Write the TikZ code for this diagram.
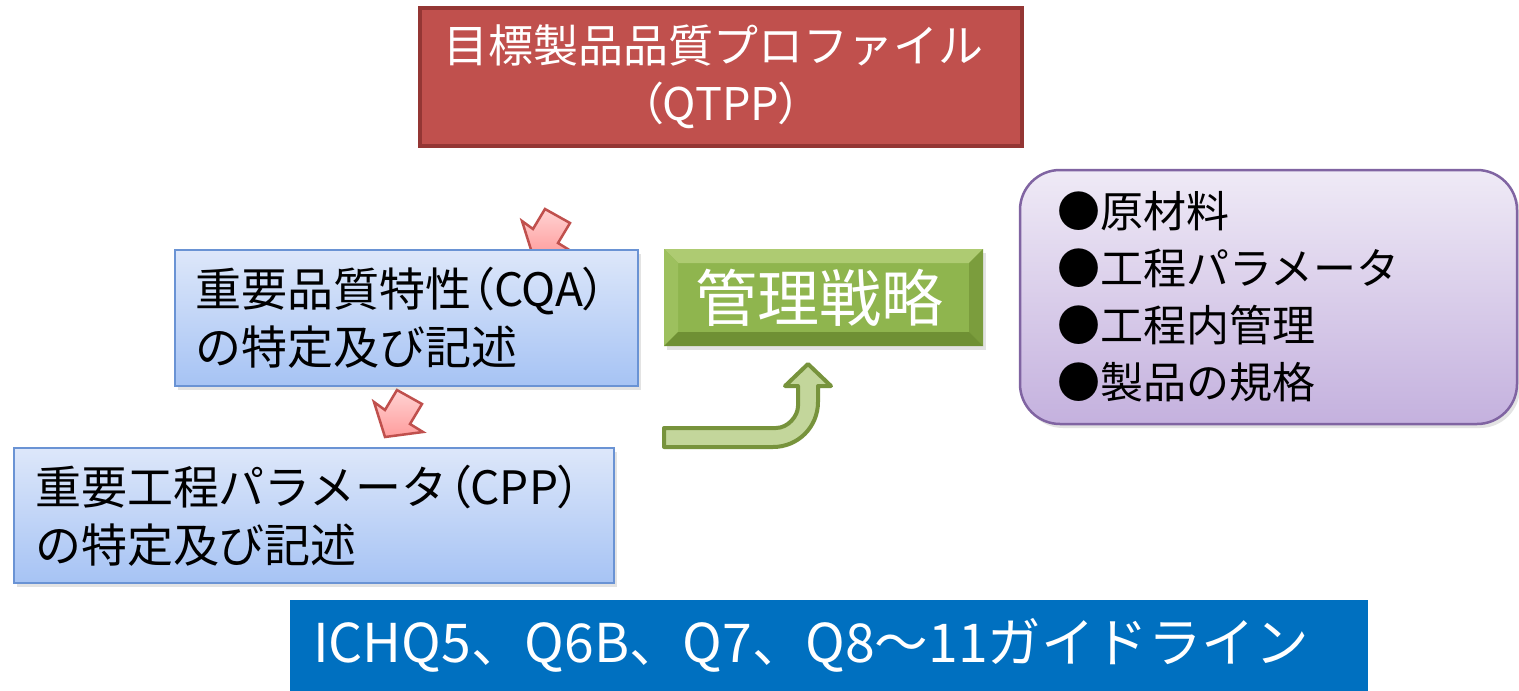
\documentclass[tikz,border=0pt]{standalone}
\usepackage{fontspec}
\setmainfont{Noto Sans CJK JP}
\usetikzlibrary{shadows}
\definecolor{qred}{HTML}{C0504D}
\definecolor{qredd}{HTML}{943634}
\definecolor{bluetop}{HTML}{DDE7FA}
\definecolor{bluebot}{HTML}{A6C3F4}
\definecolor{blueline}{HTML}{6A93D4}
\definecolor{banblue}{HTML}{0070C0}
\definecolor{purtop}{HTML}{EFEAF6}
\definecolor{purbot}{HTML}{C4B1DE}
\definecolor{purline}{HTML}{8064A2}
\definecolor{gmid}{HTML}{8FB54E}
\definecolor{glight}{HTML}{AECB72}
\definecolor{gleft}{HTML}{9DC05E}
\definecolor{gright}{HTML}{7B9D3D}
\definecolor{gdark}{HTML}{6F9034}
\definecolor{arrfill}{HTML}{C3D69B}
\definecolor{arrline}{HTML}{77933C}
\definecolor{pinktop}{HTML}{FFD3D3}
\definecolor{pinkbot}{HTML}{FF9C9C}
\newcommand\palt[1]{{\addfontfeatures{RawFeature=+palt}#1}}
\tikzset{
  softshadow/.style={drop shadow={opacity=0.22, shadow xshift=3pt, shadow yshift=-4pt}},
  redbox/.style={draw=qredd, line width=4pt, fill=qred, text=white, align=center,
    font=\fontsize{45}{58}\selectfont, inner sep=0pt},
  bluebox/.style={draw=blueline, line width=1.5pt, top color=bluetop, bottom color=bluebot,
    align=left, font=\fontsize{46}{58}\selectfont, softshadow},
  ctrlbox/.style={fill=gmid, text=white, font=\fontsize{62}{70}\selectfont, inner sep=0pt, softshadow},
  purplebox/.style={draw=purline, line width=2.5pt, rounded corners=40pt, top color=purtop,
    bottom color=purbot, align=left, font=\fontsize{43}{57}\selectfont, softshadow},
  banner/.style={fill=banblue, text=white, font=\fontsize{53.5}{60}\selectfont, inner ysep=0pt,
    inner xsep=23pt, align=left},
  bentarrow/.style={fill=arrfill, draw=arrline, line width=4pt, line join=round},
  pinkstyle/.style={draw=qred, line width=2.5pt, line join=miter, top color=pinktop, bottom color=pinkbot},
  pics/pinkarrow/.style={code={
    \path[pinkstyle] (0,0) -- (38,-5) -- (25,-13) -- (37,-33) -- (12,-47) -- (0,-27) -- (-11,-35) -- cycle;}}
}
\begin{document}
\begin{tikzpicture}[x=1pt,y=-1pt]
\useasboundingbox (0,0) rectangle (1519,691);
\fill[white] (0,0) rectangle (1519,691);

% QTPP
\node[redbox, minimum width=602pt, minimum height=138pt] (qtpp) at (721,77)
  {\hspace*{-16pt}目標製品品質プロファイル\\\palt{（}QTPP\palt{）}};

% pink arrows
\pic at (533,256) {pinkarrow};
\pic at (385,437) {pinkarrow};

% CQA
\node[bluebox, minimum width=463pt, minimum height=136pt, text width=423pt, inner xsep=20pt] (cqa) at (406.5,318)
  {重要品質特性\palt{（}CQA\palt{）}\\の特定及び記述};

% CPP
\node[bluebox, minimum width=600pt, minimum height=135pt, text width=558pt, inner xsep=21pt] (cpp) at (314,515.5)
  {重要工程パラメータ\palt{（}CPP\palt{）}\\の特定及び記述};

% control strategy
\node[ctrlbox, minimum width=319pt, minimum height=97pt,
  path picture={
    \fill[glight] (path picture bounding box.north west) -- (path picture bounding box.north east)
      -- ([shift={(-14pt,-14pt)}]path picture bounding box.north east) -- ([shift={(14pt,-14pt)}]path picture bounding box.north west) -- cycle;
    \fill[gleft] (path picture bounding box.north west) -- ([shift={(14pt,-14pt)}]path picture bounding box.north west)
      -- ([shift={(14pt,14pt)}]path picture bounding box.south west) -- (path picture bounding box.south west) -- cycle;
    \fill[gright] (path picture bounding box.north east) -- ([shift={(-14pt,-14pt)}]path picture bounding box.north east)
      -- ([shift={(-14pt,14pt)}]path picture bounding box.south east) -- (path picture bounding box.south east) -- cycle;
    \fill[gdark] (path picture bounding box.south west) -- ([shift={(14pt,14pt)}]path picture bounding box.south west)
      -- ([shift={(-14pt,14pt)}]path picture bounding box.south east) -- (path picture bounding box.south east) -- cycle;
  }] (ctrl) at (823.5,297.5) {\hspace*{-8pt}管理戦略};

% bent arrow
\path[bentarrow] (664,428) -- (776,428) .. controls (788,428) and (798,416) .. (798,406)
  -- (798,386) -- (785,386) -- (808,364) -- (831,386) -- (818,386) -- (818,402)
  .. controls (818,427) and (798,447) .. (773,447) -- (664,447) -- cycle;

% list
\node[purplebox, minimum width=497pt, minimum height=254pt, text width=423pt, inner xsep=37pt] (list) at (1268.5,297)
  {●原材料\\●工程パラメータ\\●工程内管理\\●製品の規格};

% banner
\node[banner, minimum width=1078pt, minimum height=91pt, text width=1032pt] (guide) at (829,645.5)
  {ICHQ5、Q6B、Q7、Q8～11ガイドライン};
\end{tikzpicture}
\end{document}
